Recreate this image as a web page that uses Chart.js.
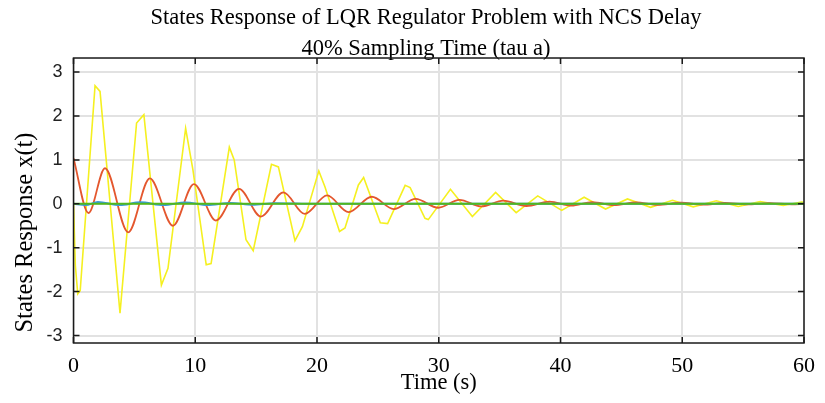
<!DOCTYPE html>
<html>
<head>
<meta charset="utf-8">
<script src="https://cdn.jsdelivr.net/npm/chart.js@4"></script>
<style>
  html, body { margin: 0; padding: 0; background: #fff; }
  #wrap { width: 825px; height: 403px; position: relative; }
</style>
</head>
<body>
<div id="wrap"><canvas id="c"></canvas></div>
<script>
// ---- Data ----
const titleLines = ["States Response of LQR Regulator Problem with NCS Delay", "40% Sampling Time (tau a)"];
const xTitle = "Time (s)";
const yTitle = "States Response x(t)";
const xTicks = [0, 10, 20, 30, 40, 50, 60];
const yTicks = [-3, -2, -1, 0, 1, 2, 3];

// yellow state (sampled, piecewise)
const yellowT = [0, 0.15, 0.35, 0.55, 1.77, 2.18, 3.82, 5.18, 5.78, 7.22, 7.76, 9.21, 9.81, 10.9, 11.3, 12.8, 13.2, 14.17, 14.76, 16.26, 16.83, 18.19, 18.8, 20.15, 20.65, 21.85, 22.3, 23.4, 23.83, 25.2, 25.8, 27.24, 27.65, 28.87, 29.14, 30.96, 32.76, 34.67, 36.36, 38.13, 40.1, 41.94, 43.7, 45.5, 47.4, 49.2, 50.9, 52.8, 54.6, 56.4, 58.3, 59.8, 60];
const yellowV = [0, -1.4, -2.05, -1.98, 2.69, 2.56, -2.49, 1.84, 2.03, -1.85, -1.47, 1.72, 0.77, -1.39, -1.36, 1.29, 1.0, -0.82, -1.07, 0.90, 0.84, -0.84, -0.52, 0.75, 0.39, -0.63, -0.55, 0.43, 0.60, -0.43, -0.45, 0.42, 0.37, -0.33, -0.36, 0.33, -0.29, 0.26, -0.20, 0.18, -0.15, 0.15, -0.12, 0.11, -0.08, 0.08, -0.07, 0.07, -0.06, 0.05, -0.04, 0.04, 0.035];

// red state (smooth damped oscillation), extremes
const redT = [0, 1.23, 2.59, 4.49, 6.27, 8.17, 9.89, 11.7, 13.6, 15.39, 17.24, 19.0, 20.83, 22.6, 24.5, 26.3, 28.1, 29.96, 31.7, 33.5, 35.3, 37.2, 39.1, 40.9, 42.6, 44.4, 46.2, 48.0, 49.9, 51.7, 53.5, 55.3, 57.2, 59.0, 60];
const redV = [1.04, -0.21, 0.81, -0.65, 0.58, -0.50, 0.45, -0.38, 0.34, -0.29, 0.26, -0.23, 0.19, -0.19, 0.16, -0.12, 0.11, -0.09, 0.09, -0.06, 0.07, -0.05, 0.05, -0.04, 0.04, -0.03, 0.03, -0.025, 0.025, -0.02, 0.02, -0.015, 0.015, -0.01, 0];

// blue state (very small, mostly hidden)
const blueT = [0, 1.0, 2.0, 3.8, 5.5, 7.4, 9.2, 11.0, 12.9, 14.7, 16.5, 20, 60];
const blueV = [0, -0.03, 0.04, -0.03, 0.035, -0.03, 0.03, -0.025, 0.02, -0.02, 0.015, 0, 0];

// green state (stays at zero)
const greenT = [0, 60];
const greenV = [0, 0];

const pts = (t, v) => t.map((x, i) => ({ x: x, y: v[i] }));

const frame = {
  id: 'frame',
  afterDatasetsDraw(chart) {
    const { ctx, chartArea: a, scales } = chart;
    ctx.save();
    ctx.strokeStyle = '#1a1a1a';
    ctx.lineWidth = 1.5;
    ctx.strokeRect(a.left, a.top, a.right - a.left, a.bottom - a.top);
    ctx.beginPath();
    const L = 6;
    yTicks.forEach(v => {
      const y = scales.y.getPixelForValue(v);
      ctx.moveTo(a.left, y); ctx.lineTo(a.left + L, y);
      ctx.moveTo(a.right, y); ctx.lineTo(a.right - L, y);
    });
    xTicks.forEach(v => {
      const x = scales.x.getPixelForValue(v);
      ctx.moveTo(x, a.top); ctx.lineTo(x, a.top + L);
      ctx.moveTo(x, a.bottom); ctx.lineTo(x, a.bottom - L);
    });
    ctx.stroke();
    // y axis title
    ctx.translate(25.5, 232.5);
    ctx.rotate(-Math.PI / 2);
    ctx.fillStyle = '#000';
    ctx.font = '24.5px "Liberation Serif"';
    ctx.textAlign = 'center';
    ctx.textBaseline = 'middle';
    ctx.fillText(yTitle, 0, 0);
    ctx.restore();
  }
};

new Chart(document.getElementById('c'), {
  type: 'line',
  data: {
    datasets: [
      { data: pts(greenT, greenV), borderColor: '#52b81c', borderWidth: 2, order: 1, tension: 0 },
      { data: pts(blueT, blueV), borderColor: '#3a9ad9', borderWidth: 2, order: 2, cubicInterpolationMode: 'monotone' },
      { data: pts(redT, redV), borderColor: '#e4572e', borderWidth: 1.8, order: 3, cubicInterpolationMode: 'monotone' },
      { data: pts(yellowT, yellowV), borderColor: '#f5f020', borderWidth: 1.6, order: 4, tension: 0 }
    ]
  },
  options: {
    responsive: true,
    maintainAspectRatio: false,
    animation: false,
    devicePixelRatio: 1,
    elements: { point: { radius: 0 } },
    layout: { padding: { left: 44, right: 17, top: 0, bottom: 0 } },
    plugins: {
      legend: { display: false },
      tooltip: { enabled: false },
      title: {
        display: true,
        text: titleLines,
        color: '#000',
        font: { family: 'Liberation Serif', size: 22.5, weight: 'normal', lineHeight: 1.378 },
        padding: { top: 2.6, bottom: -6.6 }
      }
    },
    scales: {
      x: {
        type: 'linear',
        min: 0, max: 60,
        afterBuildTicks: s => { s.ticks = xTicks.map(v => ({ value: v })); },
        afterFit: s => { s.height = 60; },
        grid: { color: '#e2e2e2', lineWidth: 2, drawTicks: false },
        border: { display: false },
        ticks: { color: '#000', padding: 10, maxRotation: 0, font: { family: 'Liberation Serif', size: 22 } },
        title: { display: true, text: xTitle, color: '#000', font: { family: 'Liberation Serif', size: 22.5 }, padding: { top: 0, bottom: 6 } }
      },
      y: {
        type: 'linear',
        min: -3.17, max: 3.32,
        afterBuildTicks: s => { s.ticks = yTicks.map(v => ({ value: v })); },
        afterFit: s => { s.width = 29.5; },
        grid: { color: '#e2e2e2', lineWidth: 2, drawTicks: false },
        border: { display: false },
        ticks: { color: '#222', padding: 11, font: { family: 'Liberation Sans', size: 18 } }
      }
    }
  },
  plugins: [frame]
});
</script>
</body>
</html>
